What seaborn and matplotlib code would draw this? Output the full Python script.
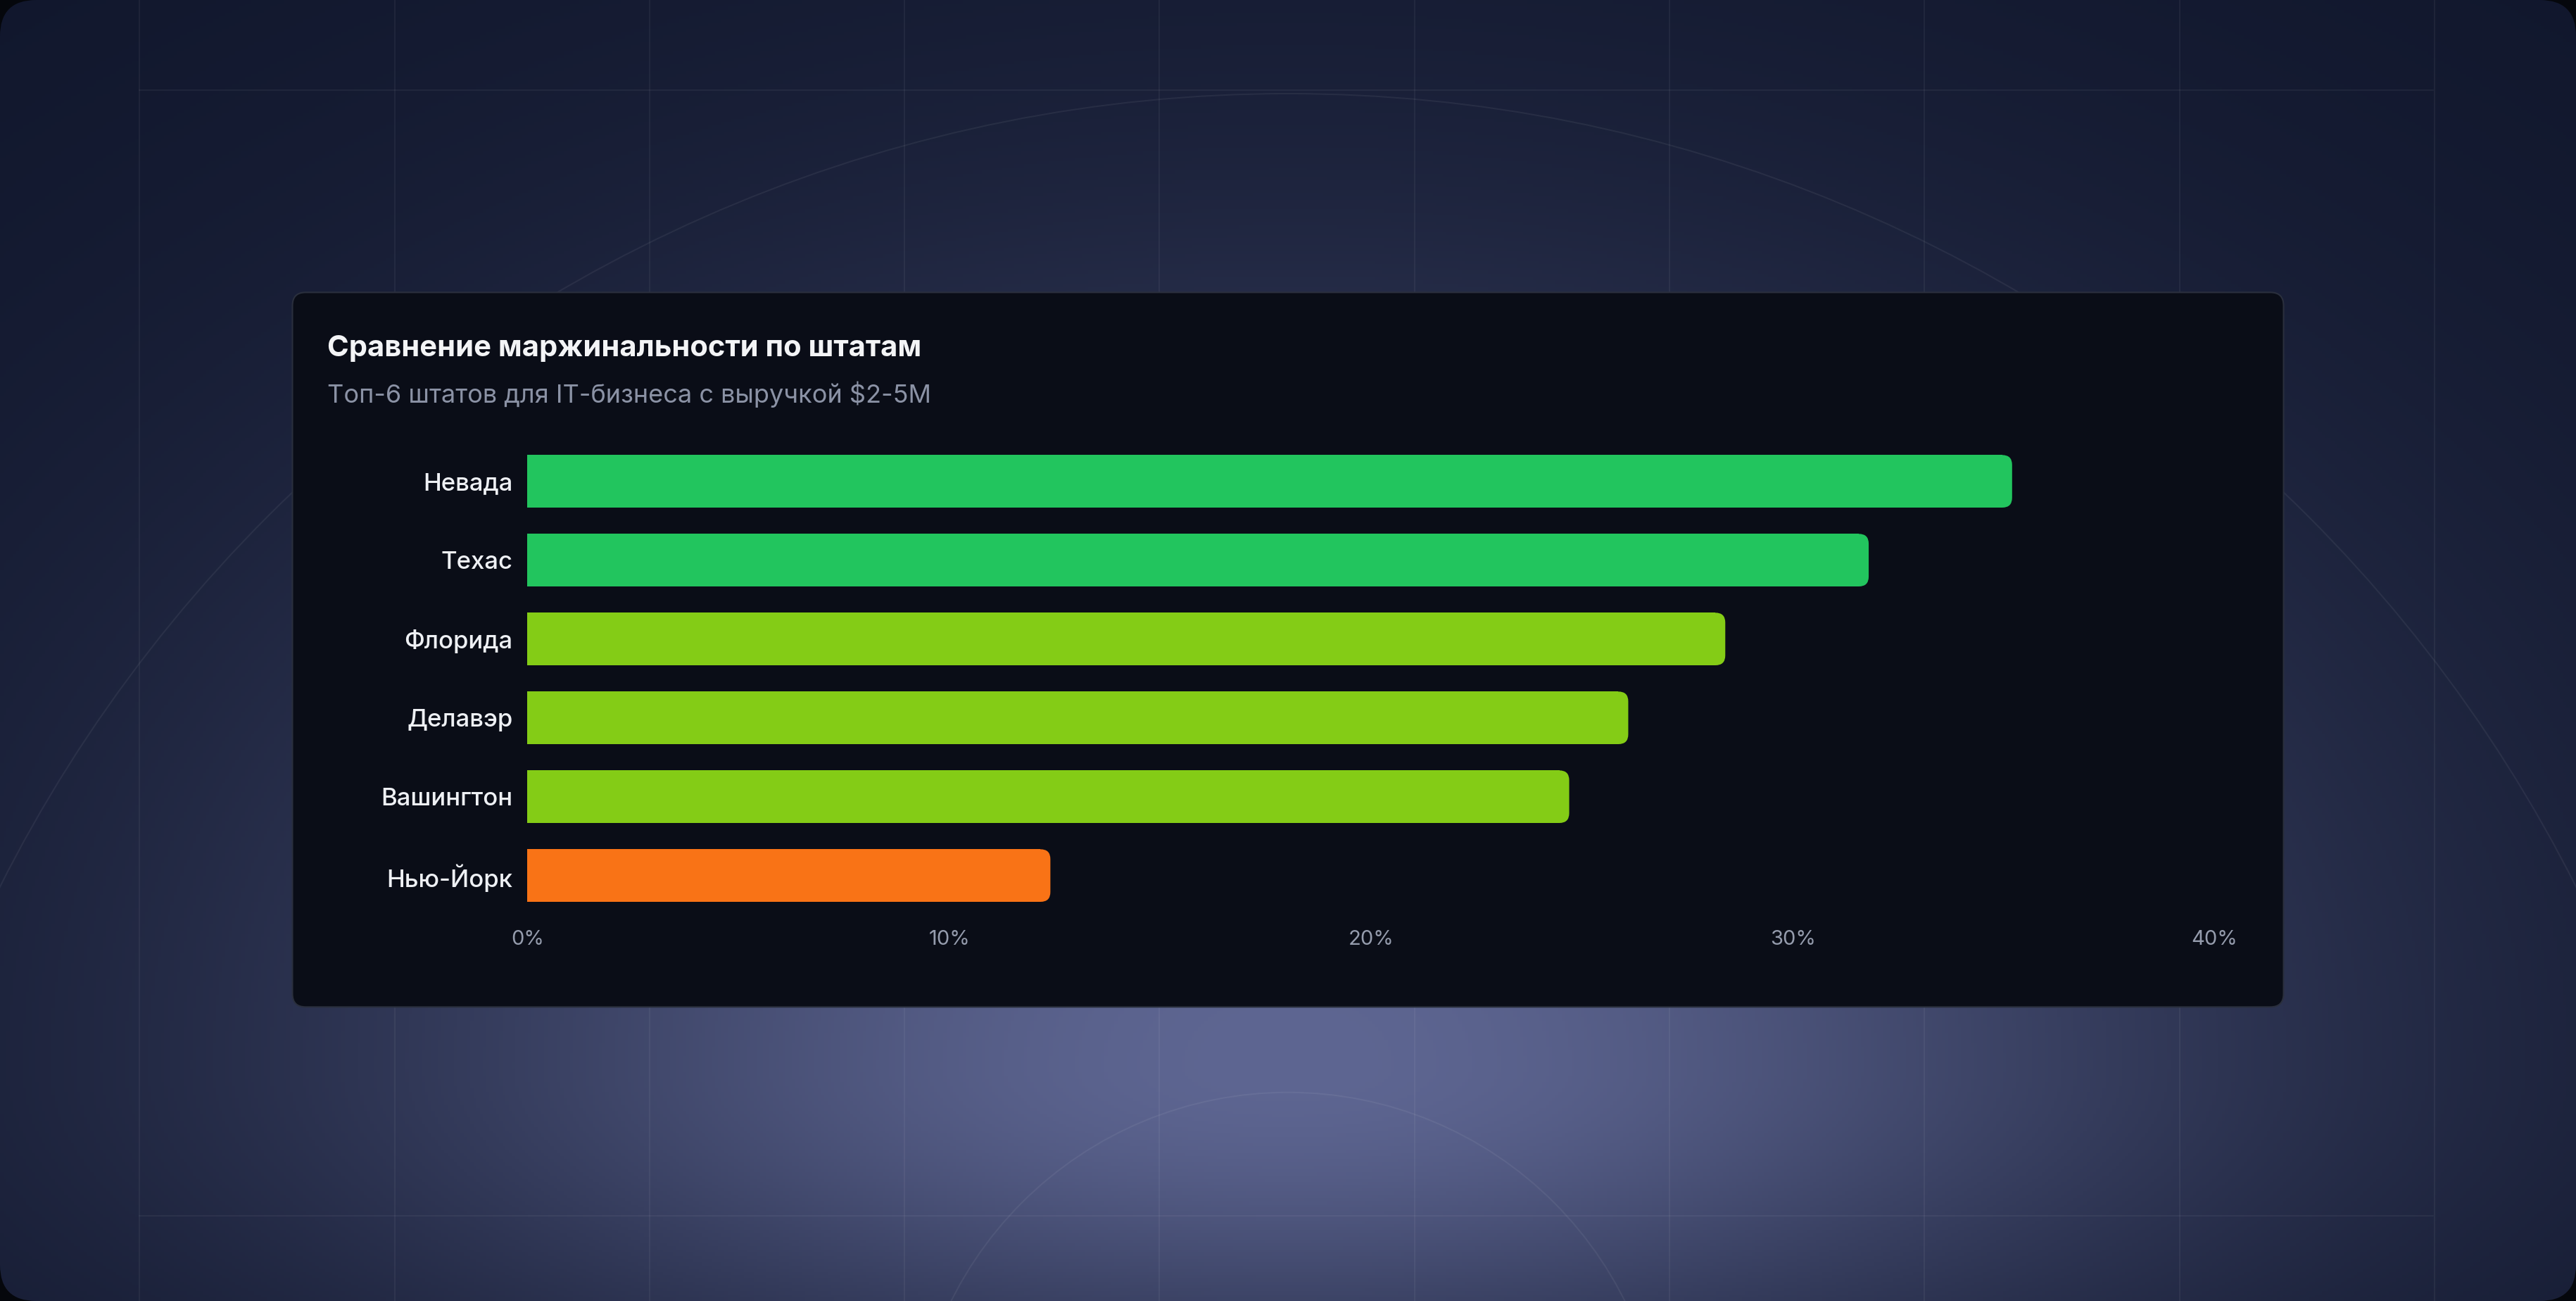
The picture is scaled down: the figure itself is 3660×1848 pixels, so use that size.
import numpy as np
import matplotlib
matplotlib.use("Agg")
import matplotlib.pyplot as plt
from matplotlib.patches import FancyBboxPatch, Circle
import seaborn as sns

# data
states = ["Невада", "Техас", "Флорида", "Делавэр", "Вашингтон", "Нью-Йорк"]
margin = [35.2, 31.8, 28.4, 26.1, 24.7, 12.4]
bar_colors = ["#22c55e", "#22c55e", "#84cc16", "#84cc16", "#84cc16", "#f97316"]
x_ticks = [0, 10, 20, 30, 40]
x_tick_labels = ["0%", "10%", "20%", "30%", "40%"]
title = "Сравнение маржинальности по штатам"
subtitle = "Топ-6 штатов для IT-бизнеса с выручкой $2-5M"

W, H = 1568, 792  # layout units, picture is ~2.334x this

sns.set_theme(style="dark")
plt.rcParams["font.family"] = ["Inter", "DejaVu Sans"]

fig = plt.figure(figsize=(36.6, 18.48), dpi=100, facecolor="#05070c")
bg = fig.add_axes([0, 0, 1, 1])
bg.set_xlim(0, W)
bg.set_ylim(H, 0)
bg.axis("off")

# background glow
xx, yy = np.meshgrid(np.linspace(0, W, 800), np.linspace(0, H, 404))
sy = np.where(yy < 650, 500, 240)
d2 = ((xx - 784) / 720) ** 2 + ((yy - 650) / sy) ** 2
t = 0.8 * np.exp(-1.8 * d2) + 0.2 * np.exp(-0.35 * d2)
dark = np.array([11, 17, 37]) / 255
light = np.array([94, 102, 146]) / 255
img = dark + (light - dark) * t[..., None]

frame = FancyBboxPatch((0, 0), W, H, boxstyle="round,pad=0,rounding_size=22",
                       transform=bg.transData, facecolor="none", edgecolor="none")
bg.add_patch(frame)
im = bg.imshow(img, extent=(0, W, H, 0), aspect="auto", zorder=0)
im.set_clip_path(frame)

# faint grid + circles
for gx in np.arange(85, W, 155.2):
    ln = bg.plot([gx, gx], [0, H], color="white", alpha=0.05, lw=1.5, zorder=1)[0]
    ln.set_clip_path(frame)
for gy in [55, 740]:
    bg.plot([85, 1481], [gy, gy], color="white", alpha=0.05, lw=1.5, zorder=1)
for cx, cy, r in [(784, 935, 878), (784, 894, 229)]:
    c = Circle((cx, cy), r, fill=False, edgecolor="white", alpha=0.06, lw=1.5, zorder=1)
    bg.add_patch(c)
    c.set_clip_path(frame)

# card
card = FancyBboxPatch((178, 178), 1212, 435, boxstyle="round,pad=0,rounding_size=8",
                      facecolor="#0a0d17", edgecolor="#2a2f3d", lw=1.5, zorder=2)
bg.add_patch(card)

bg.text(199, 212, title, fontsize=30, fontweight="bold", color="#f3f4f6",
        va="center", ha="left", zorder=3)
bg.text(199, 240, subtitle, fontsize=26, color="#8b92a5",
        va="center", ha="left", zorder=3)

# chart
ax = fig.add_axes([321 / W, 1 - 557 / H, 1027 / W, 288 / H])
sns.barplot(x=margin, y=states, hue=states, palette=bar_colors, legend=False,
            width=32 / 48, saturation=1, orient="h", ax=ax)
ax.set_xlim(0, 40)
ax.set_ylim(5.5, -0.5)
ax.set_facecolor("none")
ax.grid(False)
sns.despine(ax=ax, left=True, bottom=True)
ax.set_xlabel("")
ax.set_ylabel("")

ax.set_xticks(x_ticks)
ax.set_xticklabels(x_tick_labels, fontsize=21, color="#959cad")
ax.tick_params(axis="x", length=0, pad=15)
ax.tick_params(axis="y", length=0, pad=15, labelsize=25, labelcolor="#eef0f4")
for lbl in ax.get_yticklabels():
    lbl.set_fontweight("medium")

# round the right end of each bar
p0 = ax.transData.transform((0, 0))
p1 = ax.transData.transform((1, 1))
sx, syy = abs(p1[0] - p0[0]), abs(p1[1] - p0[1])
rx = 14 / sx
aspect = sx / syy
for p in list(ax.patches):
    x0, y0, w, h = p.get_x(), p.get_y(), p.get_width(), p.get_height()
    rb = FancyBboxPatch((x0, y0), w, h, boxstyle=f"round,pad=0,rounding_size={rx}",
                        mutation_aspect=aspect, facecolor=p.get_facecolor(),
                        edgecolor="none")
    ax.add_patch(rb)
    p.set_width(w - rx)
    p.set_edgecolor("none")

fig.savefig("out.png", dpi=100, facecolor=fig.get_facecolor())
